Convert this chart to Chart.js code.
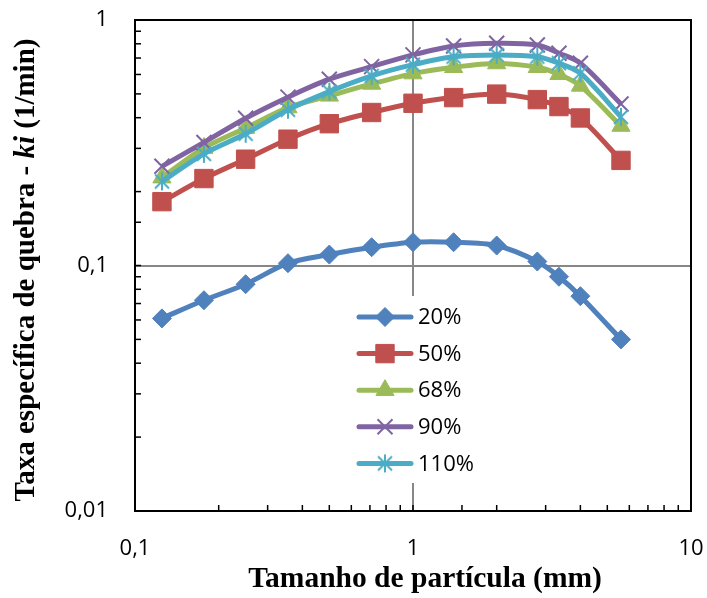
<!DOCTYPE html>
<html><head><meta charset="utf-8">
<script src="https://cdn.jsdelivr.net/npm/chart.js@4.4.0/dist/chart.umd.min.js"></script>
<style>html,body{margin:0;padding:0;background:#fff}#wrap{width:707px;height:598px;position:relative}</style>
</head><body><div id="wrap"><canvas id="c" width="707" height="598"></canvas></div>
<script>
// ---- data ----
const particleSizes = [0.125, 0.177, 0.25, 0.355, 0.5, 0.71, 1.0, 1.4, 2.0, 2.8, 3.35, 4.0, 5.6];
const seriesLabels = ['20%', '50%', '68%', '90%', '110%'];
const k20  = [0.0609, 0.0722, 0.0839, 0.1022, 0.1108, 0.1187, 0.1244, 0.1244, 0.1206, 0.1038, 0.090, 0.075, 0.050];
const k50  = [0.182, 0.226, 0.271, 0.327, 0.378, 0.420, 0.458, 0.483, 0.499, 0.474, 0.444, 0.399, 0.268];
const k68  = [0.228, 0.301, 0.363, 0.440, 0.491, 0.549, 0.605, 0.642, 0.665, 0.642, 0.601, 0.539, 0.370];
const k90  = [0.2535, 0.317, 0.398, 0.485, 0.574, 0.646, 0.721, 0.784, 0.804, 0.791, 0.732, 0.667, 0.455];
const k110 = [0.220, 0.285, 0.344, 0.431, 0.511, 0.592, 0.658, 0.709, 0.721, 0.709, 0.667, 0.607, 0.403];
const xTickValues = [0.1, 1, 10];
const xTickLabels = ['0,1', '1', '10'];
const yTickValues = [0.01, 0.1, 1];
const yTickLabels = ['0,01', '0,1', '1'];
const xTitle = 'Tamanho de partícula (mm)';
const yTitleParts = ['Taxa específica de quebra - ', 'ki', ' (1/min)'];

// ---- styles ----
const colors = ['#4F81BD', '#C0504D', '#9BBB59', '#8064A2', '#4BACC6'];
function makeStar(color) {
  const c = document.createElement('canvas');
  c.width = 20; c.height = 20;
  const g = c.getContext('2d');
  g.strokeStyle = color; g.lineWidth = 2;
  g.beginPath();
  g.moveTo(3, 3); g.lineTo(17, 17);
  g.moveTo(17, 3); g.lineTo(3, 17);
  g.moveTo(10, 1); g.lineTo(10, 19);
  g.stroke();
  return c;
}
const pointStyles = ['rectRot', 'rect', 'triangle', 'crossRot', makeStar(colors[4])];
const pointRadii = [9.5, 13, 10.5, 10.6, 10];
const pointBorders = [1, 1, 1, 2, 1];
const seriesValues = [k20, k50, k68, k90, k110];

function pts(vals) { return particleSizes.map((x, i) => ({ x: x, y: vals[i] })); }
function labelFor(v, vals, labels) {
  for (let i = 0; i < vals.length; i++) if (Math.abs(v / vals[i] - 1) < 1e-6) return labels[i];
  return '';
}

const datasets = seriesValues.map((vals, i) => ({
  label: seriesLabels[i],
  data: pts(vals),
  borderColor: colors[i],
  backgroundColor: colors[i],
  borderWidth: 5,
  pointStyle: pointStyles[i],
  pointRadius: pointRadii[i],
  pointHoverRadius: pointRadii[i],
  pointBorderWidth: pointBorders[i],
  pointBackgroundColor: colors[i],
  pointBorderColor: colors[i],
  tension: 0.3,
  order: seriesValues.length - i
}));

const tickFont = { family: "'Open Sans'", size: 22 };

const decor = {
  id: 'decor',
  beforeDatasetsDraw(chart) {
    const { ctx, chartArea: a, scales: { x, y } } = chart;
    ctx.save();
    ctx.strokeStyle = '#000';
    ctx.lineWidth = 1.5;
    x.ticks.forEach(t => {
      const px = x.getPixelForValue(t.value);
      if (px <= a.left + 1 || px >= a.right - 1) return;
      ctx.beginPath(); ctx.moveTo(px, a.bottom); ctx.lineTo(px, a.bottom - 6); ctx.stroke();
    });
    y.ticks.forEach(t => {
      const py = y.getPixelForValue(t.value);
      if (py <= a.top + 1 || py >= a.bottom - 1) return;
      ctx.beginPath(); ctx.moveTo(a.left, py); ctx.lineTo(a.left + 6, py); ctx.stroke();
    });
    ctx.lineWidth = 2;
    ctx.strokeRect(a.left, a.top, a.right - a.left, a.bottom - a.top);
    ctx.restore();
  },
  afterDraw(chart) {
    const { ctx } = chart;
    ctx.save();
    // legend
    ctx.fillStyle = '#fff';
    ctx.fillRect(350, 296, 130, 187);
    chart.data.datasets.forEach((ds, i) => {
      const yy = 317 + i * 36.6;
      ctx.strokeStyle = ds.borderColor;
      ctx.lineWidth = 5;
      ctx.lineCap = 'round';
      ctx.beginPath(); ctx.moveTo(359, yy); ctx.lineTo(411, yy); ctx.stroke();
      ctx.lineCap = 'butt';
      ctx.fillStyle = ds.pointBackgroundColor;
      ctx.strokeStyle = ds.pointBorderColor;
      ctx.lineWidth = ds.pointBorderWidth;
      Chart.helpers.drawPoint(ctx, { pointStyle: ds.pointStyle, radius: ds.pointRadius, borderWidth: ds.pointBorderWidth, rotation: 0 }, 385, yy);
      ctx.fillStyle = '#000';
      ctx.font = "22px 'Open Sans'";
      ctx.textBaseline = 'middle';
      ctx.textAlign = 'left';
      ctx.fillText(ds.label, 418, yy + 1);
    });
    // x title
    ctx.fillStyle = '#000';
    ctx.font = "bold 29.5px 'Liberation Serif'";
    ctx.textAlign = 'center';
    ctx.textBaseline = 'middle';
    ctx.fillText(xTitle, 425, 579);
    // y title (mixed styles)
    const fonts = ["bold 29px 'Liberation Serif'", "italic bold 29px 'Liberation Serif'", "bold 29px 'Liberation Serif'"];
    let total = 0;
    const widths = yTitleParts.map((p, i) => { ctx.font = fonts[i]; const w = ctx.measureText(p).width; total += w; return w; });
    ctx.translate(27, 270);
    ctx.rotate(-Math.PI / 2);
    ctx.textAlign = 'left';
    let xx = -total / 2;
    yTitleParts.forEach((p, i) => { ctx.font = fonts[i]; ctx.fillText(p, xx, 0); xx += widths[i]; });
    ctx.restore();
  }
};

function zeroPad(s) { s.paddingTop = 0; s.paddingBottom = 0; s.paddingLeft = 0; s.paddingRight = 0; }

new Chart(document.getElementById('c'), {
  type: 'line',
  data: { datasets },
  options: {
    responsive: false,
    animation: false,
    devicePixelRatio: 1,
    layout: { padding: { left: 0, right: 16, top: 20, bottom: 0 } },
    plugins: { legend: { display: false }, tooltip: { enabled: false } },
    scales: {
      x: {
        type: 'logarithmic', min: 0.1, max: 10,
        border: { display: false },
        grid: { drawTicks: false, lineWidth: 2, color: ctx => (ctx.tick && Math.abs(ctx.tick.value - 1) < 1e-9) ? '#878787' : 'rgba(0,0,0,0)' },
        ticks: { autoSkip: false, maxRotation: 0, padding: 25, color: '#000', font: tickFont,
          callback: v => labelFor(v, xTickValues, xTickLabels) },
        afterFit: s => { s.height = 87; zeroPad(s); }
      },
      y: {
        type: 'logarithmic', min: 0.01, max: 1,
        border: { display: false },
        grid: { drawTicks: false, lineWidth: 2, color: ctx => (ctx.tick && Math.abs(ctx.tick.value / 0.1 - 1) < 1e-6) ? '#878787' : 'rgba(0,0,0,0)' },
        ticks: { autoSkip: false, padding: 27, color: '#000', font: tickFont,
          callback: v => labelFor(v, yTickValues, yTickLabels) },
        afterFit: s => { s.width = 135; zeroPad(s); }
      }
    }
  },
  plugins: [decor]
});
</script>
</body></html>
